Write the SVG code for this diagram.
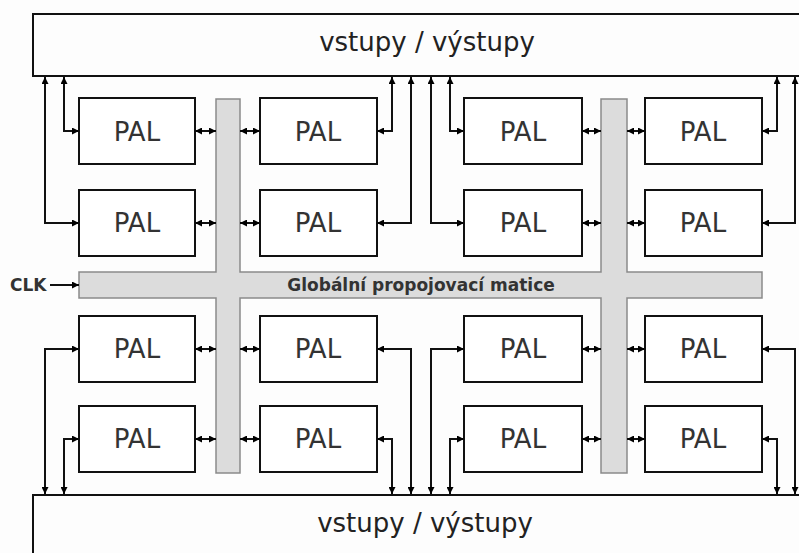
<svg xmlns="http://www.w3.org/2000/svg" width="799" height="553" viewBox="0 0 799 553">
<defs>
<marker id="ah" viewBox="0 0 8 8" refX="8" refY="4" markerWidth="7" markerHeight="7" markerUnits="userSpaceOnUse" orient="auto-start-reverse">
<path d="M0,0 L8,4 L0,8 z" fill="#000"/>
</marker>
<style>
.io{fill:#fdfdfd;stroke:#111;stroke-width:2}
.pal{fill:#fff;stroke:#111;stroke-width:2}
.pt{font-family:"DejaVu Sans",sans-serif;font-size:26px;fill:#333;text-anchor:middle}
.iot{font-family:"DejaVu Sans",sans-serif;font-size:26px;fill:#222;text-anchor:middle}
.c{fill:none;stroke:#111;stroke-width:2;marker-start:url(#ah);marker-end:url(#ah)}
.b{font-family:"DejaVu Sans",sans-serif;font-weight:bold;font-size:17px;fill:#333}
</style>
</defs>
<rect width="799" height="553" fill="#fdfdfd"/>
<g id="io-top"><rect class="io" x="33" y="14" width="790" height="62"/><text class="iot" x="427" y="51">vstupy / výstupy</text></g>
<g id="io-bottom"><rect class="io" x="33" y="495" width="790" height="80"/><text class="iot" x="425" y="532">vstupy / výstupy</text></g>
<g id="matrix">
<path d="M216,99 H240 V272 H601 V99 H627 V272 H762 V298 H627 V473 H601 V298 H240 V473 H216 V298 H79 V272 H216 Z" fill="#dcdcdc" stroke="#8a8a8a" stroke-width="1.5"/>
<text class="b" x="421" y="291" text-anchor="middle">Globální propojovací matice</text>
</g>
<g id="clk"><text class="b" x="10" y="291">CLK</text></g>
<g id="pal-1-1"><rect class="pal" x="79" y="98" width="116" height="66"/><text class="pt" x="137" y="141">PAL</text></g>
<g id="pal-1-2"><rect class="pal" x="260" y="98" width="117" height="66"/><text class="pt" x="318" y="141">PAL</text></g>
<g id="pal-1-3"><rect class="pal" x="464" y="98" width="118" height="66"/><text class="pt" x="523" y="141">PAL</text></g>
<g id="pal-1-4"><rect class="pal" x="645" y="98" width="117" height="66"/><text class="pt" x="703" y="141">PAL</text></g>
<g id="pal-2-1"><rect class="pal" x="79" y="190" width="116" height="66"/><text class="pt" x="137" y="232">PAL</text></g>
<g id="pal-2-2"><rect class="pal" x="260" y="190" width="117" height="66"/><text class="pt" x="318" y="232">PAL</text></g>
<g id="pal-2-3"><rect class="pal" x="464" y="190" width="118" height="66"/><text class="pt" x="523" y="232">PAL</text></g>
<g id="pal-2-4"><rect class="pal" x="645" y="190" width="117" height="66"/><text class="pt" x="703" y="232">PAL</text></g>
<g id="pal-3-1"><rect class="pal" x="79" y="316" width="116" height="66"/><text class="pt" x="137" y="358">PAL</text></g>
<g id="pal-3-2"><rect class="pal" x="260" y="316" width="117" height="66"/><text class="pt" x="318" y="358">PAL</text></g>
<g id="pal-3-3"><rect class="pal" x="464" y="316" width="118" height="66"/><text class="pt" x="523" y="358">PAL</text></g>
<g id="pal-3-4"><rect class="pal" x="645" y="316" width="117" height="66"/><text class="pt" x="703" y="358">PAL</text></g>
<g id="pal-4-1"><rect class="pal" x="79" y="406" width="116" height="66"/><text class="pt" x="137" y="448">PAL</text></g>
<g id="pal-4-2"><rect class="pal" x="260" y="406" width="117" height="66"/><text class="pt" x="318" y="448">PAL</text></g>
<g id="pal-4-3"><rect class="pal" x="464" y="406" width="118" height="66"/><text class="pt" x="523" y="448">PAL</text></g>
<g id="pal-4-4"><rect class="pal" x="645" y="406" width="117" height="66"/><text class="pt" x="703" y="448">PAL</text></g>
<g id="connectors">
<path class="c" d="M45,77 V223 H79"/>
<path class="c" d="M64,77 V131 H79"/>
<path class="c" d="M392,77 V131 H377"/>
<path class="c" d="M411,77 V223 H377"/>
<path class="c" d="M431,77 V223 H464"/>
<path class="c" d="M450,77 V131 H464"/>
<path class="c" d="M777,77 V131 H762"/>
<path class="c" d="M795,77 V223 H762"/>
<path class="c" d="M79,349 H45 V494"/>
<path class="c" d="M79,439 H64 V494"/>
<path class="c" d="M377,439 H392 V494"/>
<path class="c" d="M377,349 H411 V494"/>
<path class="c" d="M464,349 H431 V494"/>
<path class="c" d="M464,439 H450 V494"/>
<path class="c" d="M762,439 H777 V494"/>
<path class="c" d="M762,349 H795 V494"/>
<path class="c" d="M195,131 H216"/><path class="c" d="M240,131 H260"/><path class="c" d="M582,131 H601"/><path class="c" d="M627,131 H645"/>
<path class="c" d="M195,223 H216"/><path class="c" d="M240,223 H260"/><path class="c" d="M582,223 H601"/><path class="c" d="M627,223 H645"/>
<path class="c" d="M195,349 H216"/><path class="c" d="M240,349 H260"/><path class="c" d="M582,349 H601"/><path class="c" d="M627,349 H645"/>
<path class="c" d="M195,439 H216"/><path class="c" d="M240,439 H260"/><path class="c" d="M582,439 H601"/><path class="c" d="M627,439 H645"/>
<path d="M50,285 H79" fill="none" stroke="#111" stroke-width="2" marker-end="url(#ah)"/>
</g>
</svg>
